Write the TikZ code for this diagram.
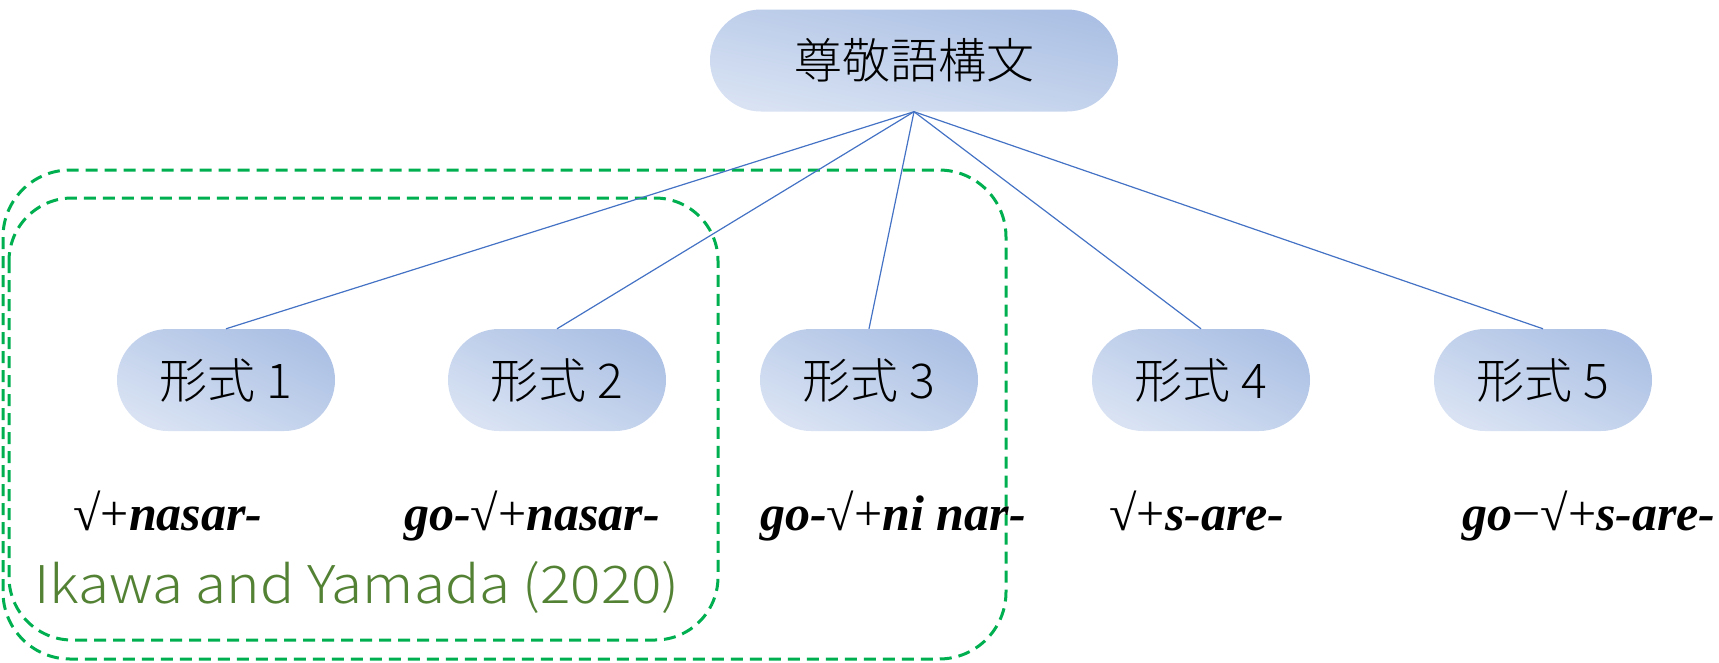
\documentclass[tikz,border=0pt]{standalone}
\usepackage{fontspec}
\setmainfont{Liberation Serif}
\newfontfamily\cjk{Noto Sans CJK JP}[UprightFont=* Light]
\newfontfamily\citefont{Noto Sans CJK JP}[UprightFont=* Light, FakeStretch=1.09]
\definecolor{nodedark}{HTML}{ABC0E4}
\definecolor{nodelight}{HTML}{D8E2F3}
\definecolor{linkblue}{HTML}{4472C4}
\definecolor{dashgreen}{HTML}{00B050}
\definecolor{textgreen}{HTML}{548235}
\newcommand{\bi}[1]{{\bfseries\itshape #1}}
\begin{document}
\begin{tikzpicture}[x=1pt,y=-1pt,
  pill/.style={rectangle, rounded corners=51pt, minimum height=102pt, inner sep=0pt,
    top color=nodedark, bottom color=nodelight, text=black},
  form/.style={pill, minimum width=218pt, shading angle=-25, font=\cjk\fontsize{48}{52}\selectfont},
  link/.style={draw=linkblue, line width=1.2pt},
  group/.style={draw=dashgreen, line width=3pt, dash pattern=on 12pt off 7pt},
  deriv/.style={font=\fontsize{50}{56}\selectfont, text=black, inner sep=0pt, anchor=base}
]
\useasboundingbox (0,0) rectangle (1719,662);
% groups
\draw[group, rounded corners=67pt] (3,170) rectangle (1006,659);
\draw[group, rounded corners=63pt] (9,198) rectangle (718,640);
% nodes
\node[pill, minimum width=408pt, shading angle=-12, font=\cjk\fontsize{48}{52}\selectfont] (top) at (914,60.5) {尊敬語構文};
\node[form] (f1) at (226,380) {形式 1};
\node[form] (f2) at (557,380) {形式 2};
\node[form] (f3) at (869,380) {形式 3};
\node[form] (f4) at (1201,380) {形式 4};
\node[form] (f5) at (1543,380) {形式 5};
% connectors
\foreach \f in {f1,f2,f3,f4,f5}
  \draw[link] (top.south) -- (\f.north);
% derivations
\node[deriv] (d1) at (168,530) {√+\bi{nasar-}};
\node[deriv] (d2) at (532,530) {\bi{go-}√+\bi{nasar-}};
\node[deriv] (d3) at (893,530) {\bi{go-}√+\bi{ni nar-}};
\node[deriv] (d4) at (1197,530) {√+\bi{s-are-}};
\node[deriv] (d5) at (1589,530) {\bi{go}−√+\bi{s-are-}};
% citation
\node[font=\citefont\fontsize{52}{58}\selectfont, text=textgreen, inner sep=0pt, anchor=base] (cite) at (357,603) {Ikawa and Yamada (2020)};
\end{tikzpicture}
\end{document}
